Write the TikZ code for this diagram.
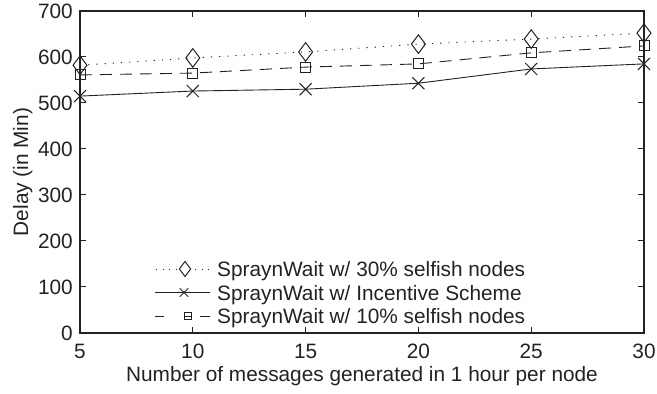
\documentclass[tikz,border=0pt]{standalone}
\usepackage{fontspec}
\setmainfont{Liberation Sans}
\usetikzlibrary{plotmarks}
\definecolor{ink}{HTML}{222222}
\begin{document}
\begin{tikzpicture}[x=1pt,y=1pt,
  lbl/.style={font=\fontsize{20.8}{25}\selectfont, text=ink, inner sep=0pt},
  axisline/.style={draw=ink, line width=1.1pt},
  tickline/.style={draw=ink, line width=1pt},
  series/.style={draw=ink, line width=0.9pt},
  dotline/.style={series, dash pattern=on 1.2pt off 7pt},
  dashline/.style={series, dash pattern=on 12pt off 8pt},
  diamondmk/.style={mark=diamond, mark size=9.3pt, mark options={solid, line width=1pt}},
  crossmk/.style={mark=x, mark size=8.5pt, mark options={solid, line width=1pt}},
  squaremk/.style={mark=square, mark size=5pt, mark options={solid, line width=1pt}}]
\useasboundingbox (0,0) rectangle (657,394);
\begin{scope}[x=22.56pt, y=0.46pt, shift={(-32.8pt,61pt)}]
  % axes box
  \draw[axisline] (5,0) rectangle (30,700);
  \foreach \v in {10,15,20,25} {
    \draw[tickline] (\v,0) -- ++(0,6pt);
    \draw[tickline] (\v,700) -- ++(0,-6pt);
  }
  \foreach \d in {100,200,...,600} {
    \draw[tickline] (5,\d) -- ++(6pt,0);
    \draw[tickline] (30,\d) -- ++(-6pt,0);
  }
  % tick labels
  \foreach \v in {5,10,...,30} {
    \node[lbl, anchor=base] (xl\v) at ([yshift=-26pt]\v,0) {\v};
  }
  \foreach \d in {0,100,...,700} {
    \node[lbl, anchor=east] (yl\d) at ([xshift=-7pt]5,\d) {\d};
  }
  % data
  \draw[dotline] plot[diamondmk] coordinates {(5,582) (10,598) (15,611) (20,628) (25,639) (30,652)};
  \draw[series] plot[crossmk] coordinates {(5,515) (10,526) (15,530) (20,543) (25,574) (30,585)};
  \draw[dashline] plot[squaremk] coordinates {(5,561) (10,565) (15,578) (20,585) (25,609) (30,624)};
\end{scope}
% axis titles
\node[lbl, anchor=base] (xtitle) at (362,12) {Number of messages generated in 1 hour per node};
\node[lbl, anchor=base, rotate=90] (ytitle) at (28,222) {Delay (in Min)};
% legend
\coordinate (la1) at (156,125); \coordinate (lm1) at (185,125); \coordinate (lb1) at (209,125);
\coordinate (la2) at (155,101.5); \coordinate (lm2) at (184,101.5); \coordinate (lb2) at (210,101.5);
\coordinate (la3) at (155,78); \coordinate (lm3) at (188,78); \coordinate (lb3) at (210,78);
\draw[series, dash pattern=on 1pt off 5.5pt] (la1) -- ([xshift=-8pt]lm1);
\draw[series, dash pattern=on 1pt off 5.5pt] ([xshift=10pt]lm1) -- (lb1);
\draw[series] plot[diamondmk, mark size=7.5pt] coordinates {(lm1)};
\draw[series] (la2) -- (lb2);
\draw[series] plot[crossmk, mark size=6pt] coordinates {(lm2)};
\draw[series] (la3) -- ++(9,0);
\draw[series] ([xshift=-10pt]lb3) -- (lb3);
\draw[series] ([xshift=-3.5pt]lm3) -- ([xshift=3.5pt]lm3);
\draw[series] plot[squaremk, mark size=3.5pt] coordinates {(lm3)};
\node[lbl, anchor=base west] (leg1) at (217,117) {SpraynWait w/ 30\% selfish nodes};
\node[lbl, anchor=base west] (leg2) at (217,93.5) {SpraynWait w/ Incentive Scheme};
\node[lbl, anchor=base west] (leg3) at (217,70) {SpraynWait w/ 10\% selfish nodes};
\end{tikzpicture}
\end{document}
